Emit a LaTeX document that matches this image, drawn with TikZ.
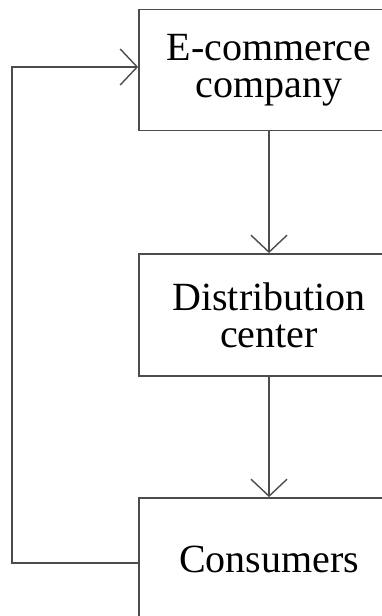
\documentclass[tikz,border=0pt]{standalone}
\usepackage{fontspec}
\setmainfont{Liberation Serif}
\usetikzlibrary{arrows.meta,positioning}
\definecolor{linegray}{gray}{0.3}

\begin{document}
\begin{tikzpicture}[x=1pt,y=1pt,
        box/.style={draw=linegray, line width=1.7pt, minimum width=260pt, minimum height=121pt,
            align=center, inner sep=0pt, font=\fontsize{40}{37}\selectfont},
        arr/.style={draw=linegray, line width=1.4pt, -{Straight Barb[length=17pt,width=36pt,line width=1.4pt]}}]
        \clip (0,0) rectangle (382,616);
        \node[box] (ecom) at (269,546) {E-commerce\\company};
        \node[box, minimum height=122pt] (dist) at (269,301) {Distribution\\center};
        \node[box, minimum height=122pt] (cons) at (269,57) {Consumers};
        \draw[arr] (ecom) -- (dist);
        \draw[arr] (dist) -- (cons);
        % feedback from consumers
        \draw[arr] ([yshift=-4pt]cons.west) -- ++(-126,0) |- ([yshift=3pt]ecom.west);
\end{tikzpicture}
\end{document}
